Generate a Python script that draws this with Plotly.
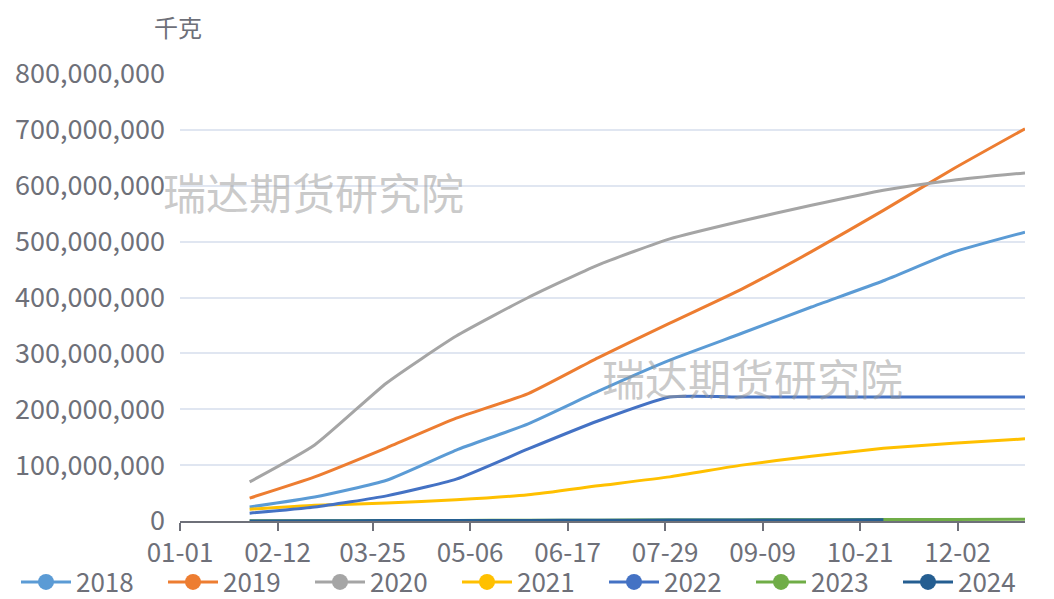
import datetime as dt
import plotly.graph_objects as go

# Cumulative monthly totals, in millions of kg, dated at each month end
month_ends = ["01-31", "02-28", "03-31", "04-30", "05-31", "06-30",
              "07-31", "08-31", "09-30", "10-31", "11-30", "12-31"]

val_2018 = [25, 43, 73, 127, 174, 232, 288, 336, 383, 430, 481, 517]
val_2019 = [41, 79, 131, 184, 228, 292, 354, 415, 482, 556, 630, 702]
val_2020 = [70, 136, 247, 331, 400, 458, 505, 537, 565, 592, 610, 623]
val_2021 = [21, 28, 32, 38, 47, 63, 79, 100, 116, 130, 139, 147]
val_2022 = [14, 25, 45, 75, 129, 179, 222, 222, 222, 222, 222, 222]
val_2023 = [0.3, 0.5, 0.8, 1.0, 1.3, 1.5, 1.8, 2.0, 2.2, 2.5, 2.7, 3.0]
val_2024 = [0.2, 0.4, 0.7, 0.9, 1.1, 1.4, 1.6, 1.8, 2.0, 2.3]

series_names = ["2018", "2019", "2020", "2021", "2022", "2023", "2024"]
series_vals = [val_2018, val_2019, val_2020, val_2021, val_2022, val_2023, val_2024]
series_colors = ["#5B9BD5", "#ED7D31", "#A5A5A5", "#FFC000",
                 "#4472C4", "#70AD47", "#255E91"]

tick_labels = ["01-01", "02-12", "03-25", "05-06", "06-17",
               "07-29", "09-09", "10-21", "12-02"]

UNIT = 1_000_000  # million kg -> kg


def day_of_year(mmdd):
    m, d = (int(p) for p in mmdd.split("-"))
    return (dt.date(2001, m, d) - dt.date(2001, 1, 1)).days


FONT = "Noto Sans CJK SC, Noto Sans, sans-serif"
GREY = "#6E7079"

fig = go.Figure()

for name, vals, color in zip(series_names, series_vals, series_colors):
    xs = [day_of_year(d) for d in month_ends[:len(vals)]]
    ys = [v * UNIT for v in vals]
    fig.add_trace(go.Scatter(
        x=xs, y=ys, mode="lines", name=name, legendgroup=name,
        showlegend=False,
        line=dict(color=color, width=3, shape="spline", smoothing=0.5),
        hoverinfo="skip",
    ))

# legend entries (line with a round symbol)
for i, (name, color) in enumerate(zip(series_names, series_colors)):
    fig.add_trace(go.Scatter(
        x=[None], y=[None], mode="lines+markers", name=name, legendgroup=name,
        line=dict(color=color, width=3),
        marker=dict(color=color, size=16, symbol="circle"),
        legendwidth=82 if i < len(series_names) - 1 else 60,
    ))

# watermark
for wx, wy in [(313, 191), (752, 377)]:
    fig.add_annotation(
        text="瑞达期货研究院", xref="paper", yref="paper",
        x=(wx - 180) / 845, y=(521 - wy) / 447,
        xanchor="center", yanchor="middle", showarrow=False,
        font=dict(family=FONT, size=43, color="rgba(150,150,150,0.5)"),
    )

# unit label above the value axis
fig.add_annotation(
    text="千克", xref="paper", yref="paper",
    x=(178 - 180) / 845, y=(521 - 27) / 447,
    xanchor="center", yanchor="middle", showarrow=False,
    font=dict(family=FONT, size=24, color=GREY),
)

tick_days = [day_of_year(t) for t in tick_labels]

fig.update_layout(
    width=1054, height=599,
    margin=dict(l=180, r=29, t=74, b=78, autoexpand=False),
    paper_bgcolor="white", plot_bgcolor="white",
    font=dict(family=FONT, size=26, color=GREY),
    showlegend=True,
    legend=dict(
        orientation="h", x=(16 - 180) / 845, xanchor="left",
        y=(521 - 582) / 447, yanchor="middle",
        font=dict(family=FONT, size=26, color=GREY),
        itemwidth=50, bgcolor="rgba(0,0,0,0)",
    ),
    xaxis=dict(
        range=[0, 364], tickmode="array", tickvals=tick_days, ticktext=tick_labels,
        showgrid=False, zeroline=False, automargin=False,
        showline=True, linecolor=GREY, linewidth=2,
        ticks="outside", ticklen=8, tickwidth=1.5, tickcolor=GREY,
        tickfont=dict(family=FONT, size=26, color=GREY),
    ),
    yaxis=dict(
        range=[0, 800 * UNIT], dtick=100 * UNIT, tickformat=",d",
        showgrid=True, gridcolor="#E0E6F1", gridwidth=1.5,
        zeroline=False, showline=False, ticks="", automargin=False,
        ticklabelstandoff=14,
        tickfont=dict(family=FONT, size=27, color=GREY),
    ),
)

fig.write_html("out.html")
